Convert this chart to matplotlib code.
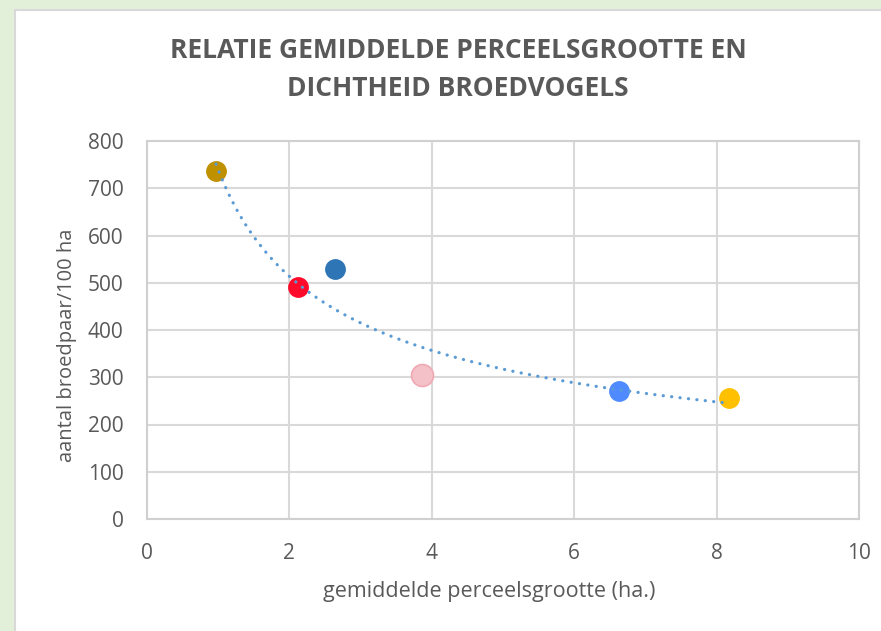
import numpy as np
import matplotlib.pyplot as plt
from matplotlib.patches import Rectangle

# data
perceel = [0.97, 2.12, 2.64, 3.86, 6.63, 8.17]
dichtheid = [737, 490, 529, 304, 271, 257]
kleuren = ['#BF9000', '#FF0A2A', '#2E75B6', '#F5C1C8', '#4F8BFF', '#FFC000']
randen = ['#BF9000', '#FF0A2A', '#2E75B6', '#EFA9B3', '#4F8BFF', '#FFC000']

x_ticks = [0, 2, 4, 6, 8, 10]
y_ticks = [0, 100, 200, 300, 400, 500, 600, 700, 800]

grijs = '#595959'
plt.rcParams['font.family'] = ['Open Sans', 'DejaVu Sans']

fig = plt.figure(figsize=(8.81, 6.31), dpi=100)
fig.patch.set_facecolor('#E2EFD9')
# white chart panel with thin grey border, behind the axes
fig.add_artist(Rectangle((15 / 881, -0.05), 1.0, 1 - 10 / 631 + 0.05,
                         transform=fig.transFigure, facecolor='white',
                         edgecolor='#D9D9D9', linewidth=1.5, zorder=-5))

ax = fig.add_axes([147 / 881, 112 / 631, 712 / 881, 378 / 631])
ax.set_facecolor('white')

# power trendline y = a * x^b
b, loga = np.polyfit(np.log(perceel), np.log(dichtheid), 1)
xs = np.linspace(min(perceel), max(perceel), 200)
ax.plot(xs, np.exp(loga) * xs ** b, color='#5B9BD5', linestyle=(0, (0.05, 2.6)),
        linewidth=2.3, zorder=3, dash_capstyle='round')

for xv, yv, c, e in zip(perceel, dichtheid, kleuren, randen):
    s = 250 if c == '#F5C1C8' else 190
    ax.scatter(xv, yv, s=s, color=c, edgecolors=e, linewidths=1.2, zorder=2)

ax.set_xlim(0, 10)
ax.set_ylim(0, 800)
ax.set_xticks(x_ticks)
ax.set_yticks(y_ticks)
ax.grid(True, color='#D9D9D9', linewidth=1.5)
ax.set_axisbelow(True)
for sp in ax.spines.values():
    sp.set_color('#D0D0D0')
    sp.set_linewidth(1.5)
ax.tick_params(length=0, labelsize=15, colors=grijs, pad=17)

fig.text(458 / 881, 1 - 50 / 631, 'RELATIE GEMIDDELDE PERCEELSGROOTTE EN',
         ha='center', va='center', fontsize=19, fontweight='bold', color=grijs)
fig.text(458 / 881, 1 - 89 / 631, 'DICHTHEID BROEDVOGELS',
         ha='center', va='center', fontsize=19, fontweight='bold', color=grijs)
fig.text(489 / 881, 1 - 592 / 631, 'gemiddelde perceelsgrootte (ha.)',
         ha='center', va='center', fontsize=15.5, color=grijs)
fig.text(67 / 881, 1 - 345 / 631, 'aantal broedpaar/100 ha', rotation=90,
         ha='center', va='center', fontsize=14.5, color=grijs)

fig.savefig('out.png', dpi=100, facecolor=fig.get_facecolor())
